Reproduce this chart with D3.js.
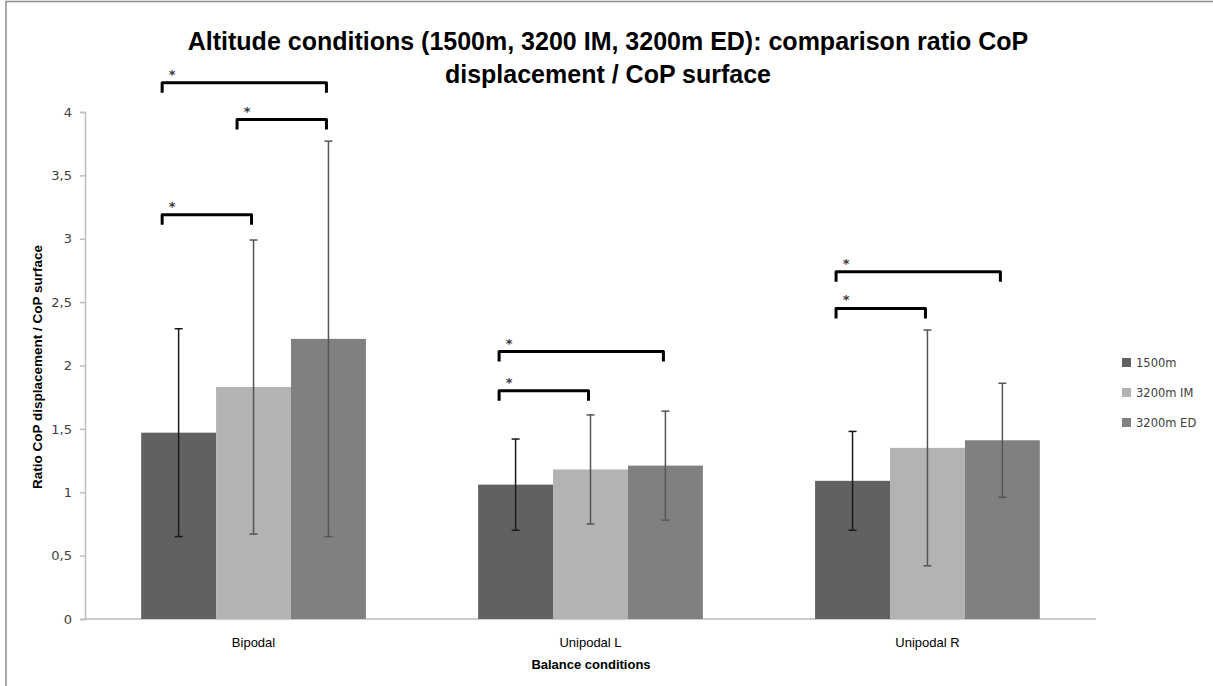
<!DOCTYPE html>
<html>
<head>
<meta charset="utf-8">
<script src="https://cdn.jsdelivr.net/npm/d3@7"></script>
<style>
  body { margin: 0; background: #fff; }
  svg { display: block; }
  .title { font-family: "Liberation Sans Narrow", "Liberation Sans", Arial, sans-serif; font-weight: bold; font-size: 25px; fill: #000; }
  .tick text { font-family: "DejaVu Sans", Verdana, sans-serif; font-size: 13px; fill: #404040; }
  .cat { font-family: "Liberation Sans Narrow", "Liberation Sans", sans-serif; font-size: 13px; fill: #000; }
  .axis-title { font-family: "Liberation Sans Narrow", "Liberation Sans", sans-serif; font-weight: bold; font-size: 13px; fill: #000; }
  .legend text { font-family: "DejaVu Sans", Verdana, sans-serif; font-size: 11.5px; fill: #404040; }
</style>
</head>
<body>
<svg id="chart" width="1213" height="686"></svg>
<script>
// data
const categories = ['Bipodal', 'Unipodal L', 'Unipodal R'];
const seriesNames = ['1500m', '3200m IM', '3200m ED'];
const seriesColors = ['#616161', '#b3b3b3', '#808080'];
const means = [
  [1.47, 1.06, 1.09],   // 1500m
  [1.83, 1.18, 1.35],   // 3200m IM
  [2.21, 1.21, 1.41]    // 3200m ED
];
const sds = [
  [0.82, 0.36, 0.39],
  [1.16, 0.43, 0.93],
  [1.56, 0.43, 0.45]
];
const yTicks = [0, 0.5, 1, 1.5, 2, 2.5, 3, 3.5, 4];
// significance brackets: category, from series, to series, height (ratio units)
const brackets = [
  { cat: 'Bipodal', from: 0, to: 2, level: 4.23 },
  { cat: 'Bipodal', from: 1, to: 2, level: 3.94 },
  { cat: 'Bipodal', from: 0, to: 1, level: 3.19 },
  { cat: 'Unipodal L', from: 0, to: 2, level: 2.11 },
  { cat: 'Unipodal L', from: 0, to: 1, level: 1.80 },
  { cat: 'Unipodal R', from: 0, to: 2, level: 2.74 },
  { cat: 'Unipodal R', from: 0, to: 1, level: 2.45 }
];

const svg = d3.select('#chart');
const margin = { left: 85, right: 117, top: 112, bottom: 67 };
const width = 1213, height = 686;

// outer frame (only top and left edges show)
svg.append('rect')
    .attr('x', 6).attr('y', 1.5)
    .attr('width', width + 10).attr('height', height + 10)
    .attr('fill', 'none')
    .attr('stroke', '#8c8c8c')
    .attr('stroke-width', 1.5);

const x = d3.scaleBand()
    .domain(categories)
    .range([margin.left, width - margin.right])
    .paddingInner(0.333)
    .paddingOuter(0.1667);
const xs = d3.scaleBand()
    .domain(d3.range(seriesNames.length))
    .range([0, x.bandwidth()]);
const y = d3.scaleLinear().domain([0, 4]).range([height - margin.bottom, margin.top]);

// title
const title = svg.append('text').attr('class', 'title').attr('text-anchor', 'middle');
title.append('tspan').attr('x', 608).attr('y', 50)
    .text('Altitude conditions (1500m, 3200 IM, 3200m ED): comparison ratio CoP');
title.append('tspan').attr('x', 608).attr('y', 83)
    .text('displacement / CoP surface');

// y axis
const yAxis = svg.append('g')
    .attr('transform', `translate(${margin.left},0)`)
    .call(d3.axisLeft(y).tickValues(yTicks).tickSize(5).tickPadding(8)
        .tickFormat(d => String(d).replace('.', ',')));
yAxis.select('.domain').attr('stroke', '#bdbdbd').attr('stroke-width', 1.5);
yAxis.selectAll('.tick line').attr('stroke', '#bdbdbd').attr('stroke-width', 1.5);

// x axis baseline
svg.append('line')
    .attr('x1', margin.left).attr('x2', width - margin.right)
    .attr('y1', y(0)).attr('y2', y(0))
    .attr('stroke', '#bdbdbd').attr('stroke-width', 1.5);

// bars
const groups = svg.append('g').selectAll('g')
    .data(categories)
    .join('g')
    .attr('transform', d => `translate(${x(d)},0)`);

groups.selectAll('rect')
    .data((c, ci) => seriesNames.map((s, si) => ({ si, v: means[si][ci], sd: sds[si][ci] })))
    .join('rect')
    .attr('x', d => xs(d.si))
    .attr('width', xs.bandwidth())
    .attr('y', d => y(d.v))
    .attr('height', d => y(0) - y(d.v))
    .attr('fill', d => seriesColors[d.si]);

// error bars
const errs = groups.selectAll('g.err')
    .data((c, ci) => seriesNames.map((s, si) => ({ si, v: means[si][ci], sd: sds[si][ci] })))
    .join('g')
    .attr('class', 'err')
    .attr('stroke', d => d.si === 0 ? '#1a1a1a' : '#555')
    .attr('stroke-width', 1.5);
errs.append('line')
    .attr('x1', d => xs(d.si) + xs.bandwidth() / 2)
    .attr('x2', d => xs(d.si) + xs.bandwidth() / 2)
    .attr('y1', d => y(d.v + d.sd))
    .attr('y2', d => y(d.v - d.sd));
errs.selectAll('line.cap')
    .data(d => [d.v + d.sd, d.v - d.sd].map(val => ({ si: d.si, val })))
    .join('line')
    .attr('class', 'cap')
    .attr('x1', d => xs(d.si) + xs.bandwidth() / 2 - 4)
    .attr('x2', d => xs(d.si) + xs.bandwidth() / 2 + 4)
    .attr('y1', d => y(d.val))
    .attr('y2', d => y(d.val));

// significance brackets
const bx0 = b => x(b.cat) + xs(b.from) + xs.bandwidth() * 0.28;
const bx1 = b => x(b.cat) + xs(b.to) + xs.bandwidth() * 0.5 - 2;
const br = svg.append('g').selectAll('g').data(brackets).join('g');
br.append('path')
    .attr('d', b => `M${bx0(b)},${y(b.level) + 10}V${y(b.level)}H${bx1(b)}V${y(b.level) + 10}`)
    .attr('fill', 'none')
    .attr('stroke', '#000')
    .attr('stroke-width', 3)
    .attr('stroke-linejoin', 'round');
br.append('text')
    .attr('x', b => bx0(b) + 10)
    .attr('y', b => y(b.level) - 4)
    .attr('text-anchor', 'middle')
    .style('font-family', 'DejaVu Sans, sans-serif')
    .style('font-size', '13px')
    .style('font-weight', 'bold')
    .attr('fill', '#3a3a3a')
    .text('*');

// category labels
svg.append('g').selectAll('text')
    .data(categories)
    .join('text')
    .attr('class', 'cat')
    .attr('x', d => x(d) + x.bandwidth() / 2)
    .attr('y', 647)
    .attr('text-anchor', 'middle')
    .text(d => d);

// axis titles
svg.append('text')
    .attr('class', 'axis-title')
    .attr('x', 591).attr('y', 669)
    .attr('text-anchor', 'middle')
    .text('Balance conditions');
svg.append('text')
    .attr('class', 'axis-title')
    .attr('transform', 'translate(42,367) rotate(-90)')
    .attr('text-anchor', 'middle')
    .style('font-size', '13.5px')
    .text('Ratio CoP displacement / CoP surface');

// legend
const legend = svg.append('g').attr('class', 'legend')
    .attr('transform', 'translate(1122,358)');
const li = legend.selectAll('g')
    .data(seriesNames)
    .join('g')
    .attr('transform', (d, i) => `translate(0,${i * 30})`);
li.append('rect')
    .attr('width', 9).attr('height', 9)
    .attr('fill', (d, i) => seriesColors[i]);
li.append('text')
    .attr('x', 14).attr('y', 9)
    .text(d => d);
</script>
</body>
</html>
